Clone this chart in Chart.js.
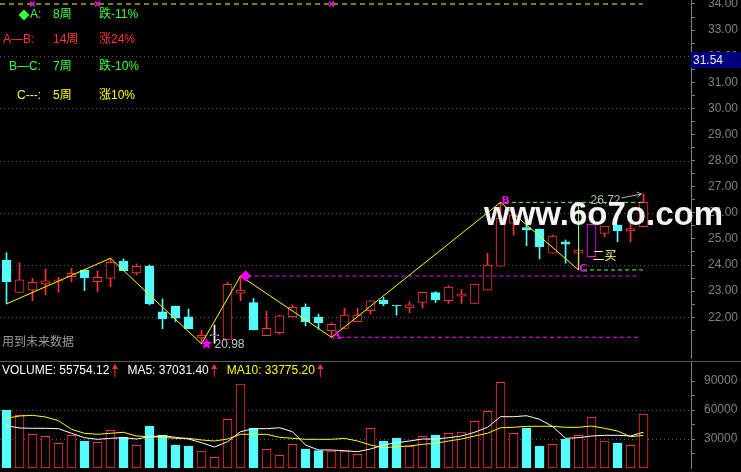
<!DOCTYPE html>
<html>
<head>
<meta charset="utf-8">
<script src="https://cdn.jsdelivr.net/npm/chart.js@4.4.0/dist/chart.umd.min.js"></script>
<style>
  html, body { margin: 0; padding: 0; background: #000; }
  #wrap { position: relative; width: 741px; height: 472px; background: #000; overflow: hidden; }
  #wrap canvas { position: absolute; left: 0; }
  #price { top: 0; }
  #vol { top: 361px; }
</style>
</head>
<body>
<div id="wrap">
  <canvas id="price" width="741" height="361"></canvas>
  <canvas id="vol" width="741" height="111"></canvas>
</div>
<script>
// Weekly K-line with zigzag wave marks (A/B/C) and volume panel
// Library: Chart.js

// ---------- data ----------
const opens  = [24.19, 22.95, 23.04, 23.28, 23.38, 23.55, 23.81, 23.36, 23.49, 24.15,
                23.70, 23.96, 22.21, 22.43, 22.01, 21.21, 21.29, 21.15, 22.92, 22.56,
                21.29, 21.41, 22.02, 22.38, 22.00, 21.48, 21.57, 21.83, 22.25, 22.66,
                22.45, 22.36, 22.57, 22.94, 22.63, 22.81, 22.53, 23.04, 23.96, 25.60,
                25.43, 25.38, 24.45, 24.89, 24.45, 24.32, 25.21, 25.53, 25.31, 25.47];
const closes = [23.36, 23.43, 23.34, 23.39, 23.43, 23.68, 23.51, 23.53, 24.10, 23.78,
                23.95, 22.51, 21.93, 21.96, 21.56, 21.31, 21.29, 23.26, 23.04, 21.51,
                21.57, 22.05, 22.38, 21.83, 21.79, 21.73, 22.08, 22.08, 22.63, 22.51,
                22.43, 22.47, 22.95, 22.66, 23.15, 22.89, 23.27, 24.00, 25.80, 25.92,
                25.34, 24.70, 25.11, 24.80, 24.57, 25.56, 25.49, 25.31, 25.40, 26.40];
const highs  = [24.47, 24.09, 23.49, 23.85, 23.53, 23.87, 23.81, 23.77, 24.26, 24.24,
                24.04, 24.00, 22.70, 22.43, 22.31, 21.51, 21.70, 23.34, 23.58, 22.72,
                22.24, 22.08, 22.47, 22.51, 22.12, 21.79, 22.34, 22.34, 22.63, 22.76,
                22.45, 22.59, 22.95, 22.98, 23.20, 23.07, 23.27, 24.45, 26.40, 26.10,
                25.88, 25.38, 25.15, 24.96, 24.62, 25.56, 25.49, 25.53, 25.85, 26.72];
const lows   = [22.51, 22.95, 22.63, 22.86, 22.95, 23.36, 23.02, 22.98, 23.17, 23.78,
                23.62, 22.47, 21.56, 21.83, 21.56, 20.98, 21.00, 21.15, 22.63, 21.51,
                21.29, 21.35, 22.02, 21.67, 21.54, 21.23, 21.57, 21.83, 22.12, 22.44,
                22.08, 22.17, 22.36, 22.56, 22.53, 22.53, 22.53, 23.04, 23.96, 25.15,
                24.74, 24.23, 24.45, 24.07, 23.81, 24.32, 25.08, 24.89, 24.89, 25.47];

const volumes = [60000, 54500, 34900, 32800, 25500, 33800, 27900, 26600, 39000, 31700,
                 23400, 43100, 33800, 23800, 22800, 17600, 11000, 50300, 86900, 41000,
                 19300, 13100, 24500, 19700, 17900, 17600, 17600, 14200, 41000, 27900,
                 31000, 22400, 32800, 34100, 35900, 37200, 48300, 58600, 88600, 35900,
                 41400, 22800, 24500, 30000, 33800, 52400, 27900, 25900, 23400, 55754.12];
const ma5  = [43760, 41380, 41070, 41070, 40660, 35900, 31340, 29690, 30720, 31340,
              30000, 32380, 33410, 31760, 30000, 26170, 21720, 27210, 37550, 40660,
              40660, 41690, 37550, 23790, 18620, 18620, 17900, 16860, 19660, 23790,
              26170, 27930, 30000, 30000, 31340, 33100, 36930, 42100, 53070, 53070,
              54100, 50380, 43000, 30720, 31340, 33100, 33830, 33830, 33100, 37031.40];
const ma10 = [51410, 53790, 54520, 52760, 48930, 40030, 35900, 34860, 35900, 36930,
              33100, 32380, 31760, 30720, 30720, 28970, 27930, 30000, 34860, 34860,
              34860, 31760, 30720, 29690, 29690, 29690, 30720, 27930, 23790, 21000,
              22030, 22760, 24520, 25550, 27930, 30000, 33100, 35900, 41690, 42100,
              43140, 43140, 43140, 42100, 42100, 43450, 41070, 38280, 32380, 33775.20];

const priceTicks  = [22, 23, 24, 25, 26, 27, 28, 29, 30, 31, 32, 33, 34];
const priceGrid   = [22, 24, 26, 28, 30, 32];
const volumeTicks = [30000, 60000, 90000];
const volumeGrid  = [30000, 60000];

// zigzag turning points (bar index, price)
const zigIdx = [0, 8, 15, 18, 25, 38, 44];
const zigVal = [22.51, 24.26, 20.98, 23.58, 21.23, 26.40, 23.81];

// horizontal level lines: value, first bar, last bar
const levelVal  = [34.00, 23.58, 21.23, 26.40, 23.81];
const levelFrom = [-0.5, 18, 25.65, 38.35, 44.35];
const levelTo   = [48.95, 48.7, 48.7, 48.95, 48.95];

const topMarkIdx = [2, 7, 25];
const signalIdx = 45;
const cursorPrice = '31.54';

const waveNames  = ['A:', 'A—B:', 'B—C:', 'C---:'];
const waveWeeks  = ['8周', '14周', '7周', '5周'];
const waveChange = ['跌-11%', '涨24%', '跌-10%', '涨10%'];

// ---------- styles ----------
const RED = '#ff3232', CYAN = '#54fcfc', WHITE = '#ffffff', MAGENTA = '#ff00ff',
      YELLOW = '#ffff00', GREEN = '#3cff3c', LGREEN = '#66ff66', AXIS = '#808080';
const FONT = '"Liberation Sans", Arial, "Noto Sans CJK SC", sans-serif';
Chart.defaults.font.family = FONT;

const idx = opens.map(function (v, i) { return i; });

function candleColor(i) {
    if (i === signalIdx) return MAGENTA;
    if (closes[i] > opens[i]) return RED;
    if (closes[i] < opens[i]) return CYAN;
    return WHITE;
}
function isDown(i) { return closes[i] < opens[i]; }

function levelDataset(k, color, dash) {
    return {
        type: 'line',
        data: [{ x: levelFrom[k], y: levelVal[k] }, { x: levelTo[k], y: levelVal[k] }],
        borderColor: color, borderWidth: 1, borderDash: dash,
        pointRadius: 0, order: 1
    };
}

function rightAxis(min, max, tickVals, labelFn, pad) {
    return {
        position: 'right', min: min, max: max, beginAtZero: false,
        afterBuildTicks: function (s) {
            s.ticks = tickVals.map(function (v) { return { value: v }; });
        },
        afterFit: function (s) { s.width = 50; s.paddingTop = 0; s.paddingBottom = 0; },
        ticks: { color: AXIS, font: { size: 12 }, padding: pad, autoSkip: false,
                 callback: labelFn },
        grid: { drawOnChartArea: false, drawTicks: true, tickLength: 4, tickColor: AXIS },
        border: { color: AXIS }
    };
}

function dottedGrid(chart, values) {
    const ys = chart.scales.y, a = chart.chartArea, c = chart.ctx;
    c.save();
    c.strokeStyle = '#5a5a5a';
    c.lineWidth = 1;
    c.setLineDash([1, 3]);
    values.forEach(function (v) {
        const y = Math.round(ys.getPixelForValue(v)) + 0.5;
        c.beginPath(); c.moveTo(a.left, y); c.lineTo(a.right, y); c.stroke();
    });
    c.restore();
}

function diamond(c, x, y, r) {
    c.beginPath();
    c.moveTo(x, y - r); c.lineTo(x + r, y); c.lineTo(x, y + r); c.lineTo(x - r, y);
    c.closePath(); c.fill();
}

function upArrow(c, x, y) {
    c.save();
    c.strokeStyle = RED; c.fillStyle = RED; c.lineWidth = 1;
    c.beginPath(); c.moveTo(x + 0.5, y + 3); c.lineTo(x + 0.5, y + 12); c.stroke();
    c.beginPath(); c.moveTo(x + 0.5, y - 1); c.lineTo(x + 3.5, y + 4); c.lineTo(x - 2.5, y + 4);
    c.closePath(); c.fill();
    c.restore();
}

// ---------- price panel ----------
const priceMin = 20.437, priceMax = 34.153;
const minorPriceTicks = [];
priceTicks.forEach(function (v, k) {
    minorPriceTicks.push(v);
    if (k < priceTicks.length - 1) minorPriceTicks.push(v + 0.5);
});
minorPriceTicks.unshift(21.5);

const pricePlugin = {
    id: 'priceDeco',
    beforeDatasetsDraw: function (chart) { dottedGrid(chart, priceGrid); },
    afterDatasetsDraw: function (chart) {
        const xs = chart.scales.x, ys = chart.scales.y, c = chart.ctx;
        const px = function (i) { return xs.getPixelForValue(i); };
        const py = function (v) { return ys.getPixelForValue(v); };
        c.save();

        // star at the low point
        const sx = px(zigIdx[2]) + 5, sy = py(zigVal[2]);
        c.fillStyle = MAGENTA;
        c.beginPath();
        for (let k = 0; k < 10; k++) {
            const r = k % 2 ? 2.6 : 6, a = -Math.PI / 2 + k * Math.PI / 5;
            c.lineTo(sx + r * Math.cos(a), sy + r * Math.sin(a));
        }
        c.closePath(); c.fill();
        c.font = '12px ' + FONT;
        c.fillStyle = '#c8c8c8';
        c.textBaseline = 'middle';
        c.textAlign = 'left';
        c.fillText(zigVal[2].toFixed(2), sx + 8, sy + 1);

        // diamond at the first rebound high
        c.fillStyle = MAGENTA;
        diamond(c, px(zigIdx[3]) + 5, py(zigVal[3]), 5.5);

        // wave letters
        c.font = 'bold 12px "Liberation Serif", serif';
        c.textAlign = 'center';
        [['A', 4], ['B', 5], ['C', 6]].forEach(function (p) {
            c.fillText(p[0], px(zigIdx[p[1]]) + 5, py(zigVal[p[1]]) - 1);
        });

        // second buy label
        c.font = '12px ' + FONT;
        c.fillStyle = '#ffff70';
        c.textAlign = 'left';
        c.fillText('二买', px(signalIdx) + 1, py(opens[signalIdx]));

        // last high with arrow
        const last = highs.length - 1;
        const hx = px(last), hy = py(highs[last]);
        c.fillStyle = '#b4b4b4';
        c.strokeStyle = '#b4b4b4';
        c.textAlign = 'right';
        c.fillText(highs[last].toFixed(2), hx - 23, hy + 7);
        c.lineWidth = 1;
        c.beginPath(); c.moveTo(hx - 22, hy + 4); c.lineTo(hx - 2, hy); c.stroke();
        c.beginPath(); c.moveTo(hx - 7, hy - 2); c.lineTo(hx - 2, hy); c.lineTo(hx - 6, hy + 3); c.stroke();

        c.restore();
    },
    afterDraw: function (chart) {
        const c = chart.ctx;
        c.save();
        // wave statistics
        const rowY = [15, 40, 67, 95.5], nameX = [30, 3, 9, 17];
        const rowColor = [GREEN, RED, GREEN, YELLOW];
        c.fillStyle = GREEN;
        diamond(c, 24, rowY[0], 5.5);
        c.font = '12px ' + FONT;
        c.textBaseline = 'middle';
        c.textAlign = 'left';
        waveNames.forEach(function (n, k) {
            c.fillStyle = rowColor[k];
            c.fillText(n, nameX[k], rowY[k]);
            c.fillText(waveWeeks[k], 53, rowY[k]);
            c.fillText(waveChange[k], 99, rowY[k]);
        });
        c.fillStyle = '#9a9a9a';
        c.fillText('用到未来数据', 2, 343);

        // watermark
        c.font = 'bold 33px "Liberation Sans", Arial, sans-serif';
        c.fillStyle = '#f4f4f4';
        c.textBaseline = 'alphabetic';
        c.fillText('www.6o7o.com', 484, 225);

        // cursor price box
        c.fillStyle = '#00007c';
        c.fillRect(691, 52, 50, 16);
        c.font = '12px ' + FONT;
        c.fillStyle = '#e8e8ff';
        c.textBaseline = 'middle';
        c.fillText(cursorPrice, 693, 60.5);
        c.restore();
    }
};

new Chart(document.getElementById('price'), {
    type: 'bar',
    data: {
        datasets: [
            { type: 'line', data: zigIdx.map(function (x, k) { return { x: x, y: zigVal[k] }; }),
              borderColor: YELLOW, borderWidth: 1, pointRadius: 0, tension: 0, order: 0 },
            { type: 'line', data: topMarkIdx.map(function (x) { return { x: x, y: levelVal[0] }; }),
              showLine: false, pointStyle: 'crossRot', pointRadius: 3.5,
              borderColor: MAGENTA, borderWidth: 1.5, order: 0 },
            levelDataset(0, YELLOW, [5, 4]),
            levelDataset(1, MAGENTA, [4, 3]),
            levelDataset(2, MAGENTA, [4, 3]),
            levelDataset(3, LGREEN, [4, 3]),
            levelDataset(4, LGREEN, [4, 3]),
            { type: 'line', data: [{ x: zigIdx[6], y: zigVal[5] }, { x: zigIdx[6], y: zigVal[6] }],
              borderColor: '#80ff80', borderWidth: 1, pointRadius: 0, order: 1 },
            { data: idx.map(function (i) { return { x: i, y: [opens[i], closes[i]] }; }),
              barThickness: 9, minBarLength: 1, grouped: false,
              backgroundColor: idx.map(function (i) { return isDown(i) && i !== signalIdx ? CYAN : '#000'; }),
              borderColor: idx.map(candleColor), borderWidth: 1, borderSkipped: false, order: 5 },
            { data: idx.map(function (i) { return { x: i, y: [lows[i], highs[i]] }; }),
              barThickness: 1, grouped: false,
              backgroundColor: idx.map(candleColor), borderWidth: 0, order: 6 }
        ]
    },
    options: {
        responsive: false, animation: false, events: [],
        layout: { autoPadding: false, padding: { left: 0, right: 0, top: 0, bottom: 3 } },
        plugins: { legend: { display: false }, tooltip: { enabled: false } },
        scales: {
            x: { type: 'linear', min: -0.5, max: 52.65, offset: false, display: false },
            y: rightAxis(priceMin, priceMax, minorPriceTicks, function (v) {
                return priceTicks.indexOf(v) >= 0 ? v.toFixed(2) : '';
            }, 13)
        }
    },
    plugins: [pricePlugin]
});

// ---------- volume panel ----------
const volMax = 110690;
const minorVolTicks = [15000, 30000, 45000, 60000, 75000, 90000];

const volPlugin = {
    id: 'volDeco',
    beforeDatasetsDraw: function (chart) { dottedGrid(chart, volumeGrid); },
    afterDraw: function (chart) {
        const c = chart.ctx, n = volumes.length - 1;
        c.save();
        c.strokeStyle = '#5a5a5a';
        c.lineWidth = 1;
        c.beginPath(); c.moveTo(0, 0.5); c.lineTo(741, 0.5); c.stroke();

        c.font = '12px ' + FONT;
        c.textBaseline = 'middle';
        c.textAlign = 'left';
        const items = [
            ['VOLUME: ' + volumes[n].toFixed(2), WHITE],
            ['MA5: ' + ma5[n].toFixed(2), WHITE],
            ['MA10: ' + ma10[n].toFixed(2), YELLOW]
        ];
        let x = 2;
        items.forEach(function (it) {
            c.fillStyle = it[1];
            c.fillText(it[0], x, 10);
            const ax = x + c.measureText(it[0]).width + 5;
            upArrow(c, ax, 4);
            x = ax + 13;
        });
        c.restore();
    }
};

new Chart(document.getElementById('vol'), {
    type: 'bar',
    data: {
        datasets: [
            { type: 'line', data: idx.map(function (i) { return { x: i, y: ma5[i] }; }),
              borderColor: WHITE, borderWidth: 1, pointRadius: 0, tension: 0, order: 0 },
            { type: 'line', data: idx.map(function (i) { return { x: i, y: ma10[i] }; }),
              borderColor: YELLOW, borderWidth: 1, pointRadius: 0, tension: 0, order: 1 },
            { data: idx.map(function (i) { return { x: i, y: volumes[i] }; }),
              barThickness: 9, grouped: false,
              backgroundColor: idx.map(function (i) { return isDown(i) ? CYAN : '#000'; }),
              borderColor: idx.map(function (i) { return isDown(i) ? CYAN : RED; }),
              borderWidth: 1, borderSkipped: false, order: 2 }
        ]
    },
    options: {
        responsive: false, animation: false, events: [],
        layout: { autoPadding: false, padding: { left: 0, right: 0, top: 0, bottom: 4 } },
        plugins: { legend: { display: false }, tooltip: { enabled: false } },
        scales: {
            x: { type: 'linear', min: -0.5, max: 52.65, offset: false, display: false },
            y: rightAxis(0, volMax, minorVolTicks, function (v) {
                return volumeTicks.indexOf(v) >= 0 ? String(v) : '';
            }, 9)
        }
    },
    plugins: [volPlugin]
});
</script>
</body>
</html>
